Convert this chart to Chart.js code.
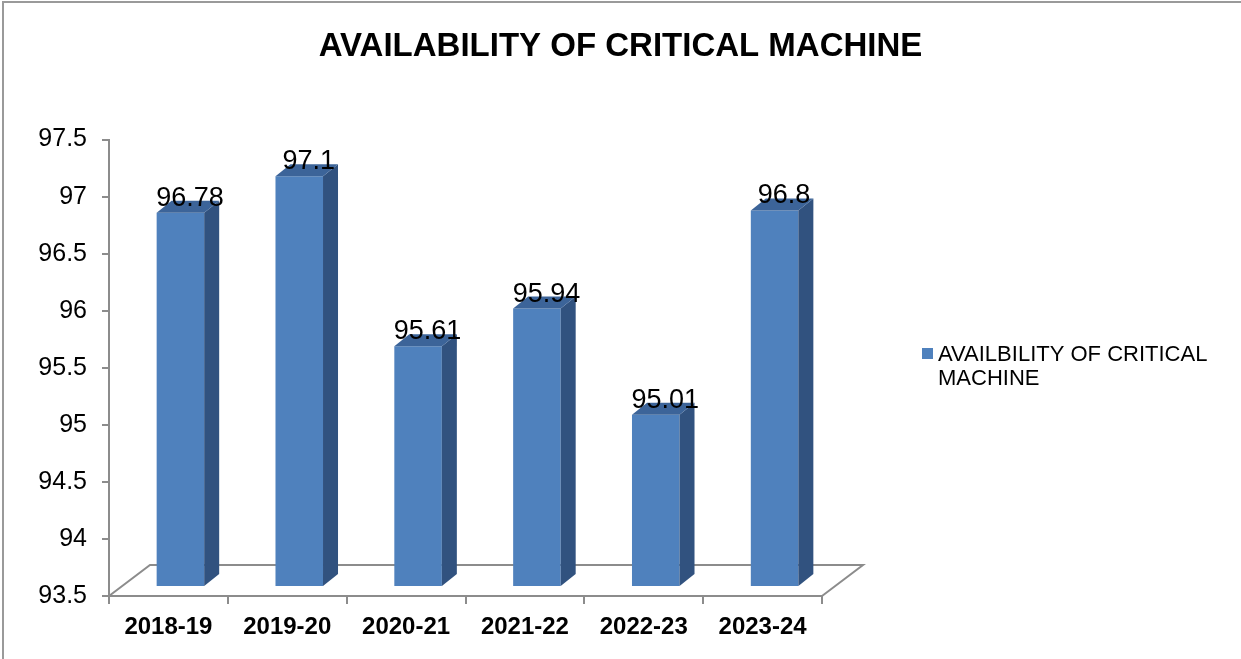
<!DOCTYPE html>
<html>
<head>
<meta charset="utf-8">
<script src="https://cdn.jsdelivr.net/npm/chart.js@4.4.1/dist/chart.umd.min.js"></script>
<style>
html, body { margin: 0; padding: 0; background: #fff; }
#wrap { width: 1241px; height: 659px; }
</style>
</head>
<body>
<div id="wrap"><canvas id="availability-chart" width="1241" height="659"></canvas></div>
<script>
var categories = ["2018-19", "2019-20", "2020-21", "2021-22", "2022-23", "2023-24"];
var availability = [96.78, 97.1, 95.61, 95.94, 95.01, 96.8];
var yTicks = [93.5, 94, 94.5, 95, 95.5, 96, 96.5, 97, 97.5];
var seriesName = "AVAILBILITY OF CRITICAL MACHINE";
var chartTitle = "AVAILABILITY OF CRITICAL MACHINE";

var FONT = "'Liberation Sans', Arial, sans-serif";
var DEPTH_X = 15, DEPTH_Y = -12;   // bar depth
var SHIFT_X = 12, SHIFT_Y = -9;    // bars stand inside the floor
var FLOOR_X = 41, FLOOR_Y = -31;
var lineGrey = '#8c8c8c';

var bars3d = {
	id: 'bars3d',
	afterLayout: function (chart) {
		// centre the title over the whole canvas, not just the plot
		if (chart.titleBlock) {
			chart.titleBlock.left = 0;
			chart.titleBlock.right = chart.width;
			chart.titleBlock.width = chart.width;
		}
	},
	beforeDraw: function (chart) {
		var ctx = chart.ctx;
		ctx.save();
		ctx.strokeStyle = '#9a9a9a';
		ctx.lineWidth = 2;
		ctx.beginPath();
		ctx.moveTo(3, chart.height);
		ctx.lineTo(3, 2);
		ctx.lineTo(chart.width, 2);
		ctx.stroke();
		ctx.restore();
	},
	beforeDatasetsDraw: function (chart) {
		var ctx = chart.ctx, a = chart.chartArea;
		ctx.save();
		ctx.strokeStyle = lineGrey;
		ctx.lineWidth = 2;
		ctx.beginPath();
		ctx.moveTo(a.left, a.bottom);
		ctx.lineTo(a.left + FLOOR_X, a.bottom + FLOOR_Y);
		ctx.lineTo(a.right + FLOOR_X, a.bottom + FLOOR_Y);
		ctx.lineTo(a.right, a.bottom);
		ctx.stroke();
		ctx.restore();
		ctx.save();
		ctx.translate(SHIFT_X, SHIFT_Y);
	},
	afterDatasetsDraw: function (chart) {
		var ctx = chart.ctx;
		var ds = chart.data.datasets[0];
		chart.getDatasetMeta(0).data.forEach(function (bar, i) {
			var l = bar.x - bar.width / 2, r = bar.x + bar.width / 2, t = bar.y, b = bar.base;
			// side
			ctx.fillStyle = '#31527f';
			ctx.beginPath();
			ctx.moveTo(r, t);
			ctx.lineTo(r + DEPTH_X, t + DEPTH_Y);
			ctx.lineTo(r + DEPTH_X, b + DEPTH_Y);
			ctx.lineTo(r, b);
			ctx.closePath();
			ctx.fill();
			// top
			ctx.fillStyle = '#3c6499';
			ctx.beginPath();
			ctx.moveTo(l, t);
			ctx.lineTo(l + DEPTH_X, t + DEPTH_Y);
			ctx.lineTo(r + DEPTH_X, t + DEPTH_Y);
			ctx.lineTo(r, t);
			ctx.closePath();
			ctx.fill();
			// value label
			ctx.fillStyle = '#000';
			ctx.font = '27px ' + FONT;
			ctx.textAlign = 'center';
			ctx.textBaseline = 'alphabetic';
			ctx.fillText(String(ds.data[i]), bar.x + 9.5, t - 7);
		});
		ctx.restore();
	},
	afterDraw: function (chart) {
		var ctx = chart.ctx;
		var ds = chart.data.datasets[0];
		ctx.save();
		ctx.fillStyle = ds.backgroundColor;
		ctx.fillRect(922, 348, 11, 11);
		ctx.fillStyle = '#000';
		ctx.font = '22px ' + FONT;
		ctx.textAlign = 'left';
		ctx.textBaseline = 'alphabetic';
		// wrap the series name
		var words = ds.label.split(' '), lines = [], cur = '';
		words.forEach(function (w) {
			var test = cur ? cur + ' ' + w : w;
			if (ctx.measureText(test).width > 290 && cur) { lines.push(cur); cur = w; }
			else cur = test;
		});
		lines.push(cur);
		lines.forEach(function (ln, k) {
			ctx.fillText(ln, 938, 361 + k * 24);
		});
		ctx.restore();
	}
};

new Chart(document.getElementById("availability-chart"), {
	type: 'bar',
	data: {
		labels: categories,
		datasets: [{
			label: seriesName,
			backgroundColor: '#4f81bd',
			data: availability,
			base: yTicks[0],
			barPercentage: 0.4,
			categoryPercentage: 1
		}]
	},
	options: {
		responsive: false,
		animation: false,
		layout: { padding: { left: 0, right: 419, top: 0, bottom: 0 } },
		plugins: {
			legend: { display: false },
			tooltip: { enabled: false },
			title: {
				display: true,
				text: chartTitle,
				color: '#000',
				font: { family: FONT, size: 33, weight: 'bold' },
				padding: { top: 27, bottom: 73 }
			}
		},
		scales: {
			x: {
				grid: { display: true, drawOnChartArea: false, drawTicks: true, tickLength: 8, color: lineGrey, lineWidth: 2, offset: true },
				border: { display: true, color: lineGrey, width: 2 },
				ticks: { color: '#000', font: { family: FONT, size: 24, weight: 'bold' }, padding: 9, maxRotation: 0 },
				afterFit: function (scale) { scale.height = 63; }
			},
			y: {
				min: 93.5,
				max: 97.5,
				afterBuildTicks: function (scale) {
					scale.ticks = yTicks.map(function (v) { return { value: v }; });
				},
				grid: { display: true, drawOnChartArea: false, drawTicks: true, tickLength: 7, color: lineGrey, lineWidth: 2 },
				border: { display: true, color: lineGrey, width: 2 },
				ticks: {
					color: '#000',
					font: { family: FONT, size: 25 },
					padding: 15,
					callback: function (v) { return String(v); }
				},
				afterFit: function (scale) { scale.width = 109; }
			}
		}
	},
	plugins: [bars3d]
});
</script>
</body>
</html>
